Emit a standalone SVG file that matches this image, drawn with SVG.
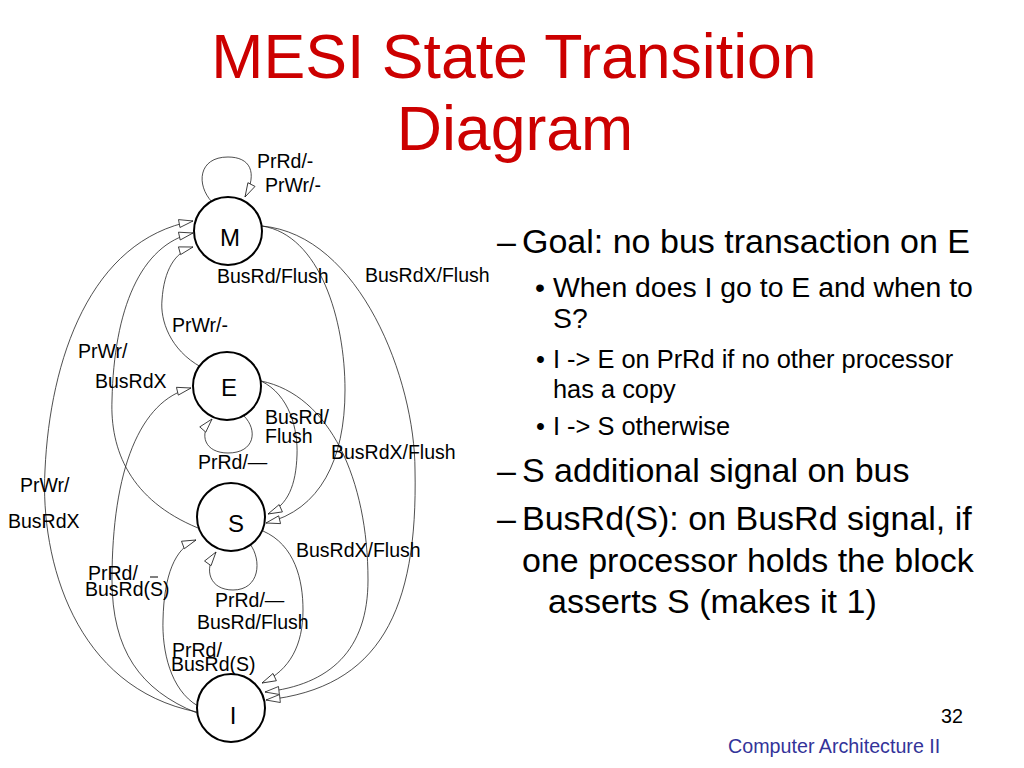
<svg xmlns="http://www.w3.org/2000/svg" width="1024" height="768" viewBox="0 0 1024 768">
<style>
.title{font-family:"Liberation Sans",Arial,sans-serif;font-size:62.6px;fill:#CC0000;text-anchor:middle}
.node{fill:#fff;stroke:#000;stroke-width:2}
.nl{font-family:"Liberation Sans",Arial,sans-serif;font-size:24px;fill:#000;text-anchor:middle}
.edge{fill:none;stroke:#222;stroke-width:0.8;marker-end:url(#arr)}
.lbl{font-family:"Liberation Sans",Arial,sans-serif;font-size:19.5px;fill:#000}
.b1{font-family:"Liberation Sans",Arial,sans-serif;font-size:34px;fill:#000}
.b2{font-family:"Liberation Sans",Arial,sans-serif;font-size:28.4px;fill:#000}
.b3{font-family:"Liberation Sans",Arial,sans-serif;font-size:25.4px;fill:#000}
.foot{font-family:"Liberation Sans",Arial,sans-serif;font-size:19.7px}
</style>
<defs>
<marker id="arr" markerUnits="userSpaceOnUse" markerWidth="16" markerHeight="11" refX="15" refY="5" orient="auto">
<path d="M1,1 L15,5 L1,9 z" fill="#fff" stroke="#222" stroke-width="0.8"/>
</marker>
</defs>
<rect width="1024" height="768" fill="#fff"/>
<g id="title">
<text class="title" x="514" y="78">MESI State Transition</text>
<text class="title" x="515" y="150">Diagram</text>
</g>
<g id="connectors">
<path id="e-MM" class="edge" d="M212,202 C196,185 198,157 228,157 C250,157 258,172 245,197"/>
<path id="e-IM" class="edge" d="M197,712 C75,688 40,560 45,470 C50,360 90,240 193,221"/>
<path id="e-SM" class="edge" d="M198,528 C130,500 110,450 112,400 C114,310 140,245 193,233"/>
<path id="e-EM" class="edge" d="M201,367 C170,350 160,320 162,300 C164,270 175,252 193,247"/>
<path id="e-IE" class="edge" d="M197,713 C140,690 112,650 112,580 C112,470 140,400 191,388"/>
<path id="e-IS" class="edge" d="M198,706 C170,690 162,650 163,620 C164,575 175,548 196,540"/>
<path id="e-MS" class="edge" d="M262,226 C320,235 345,320 345,390 C345,460 320,510 266,523"/>
<path id="e-MI" class="edge" d="M262,226 C360,235 415,380 415,470 C418,610 380,688 266,700"/>
<path id="e-ES" class="edge" d="M261,381 C290,395 298,430 297,455 C296,485 288,505 268,514"/>
<path id="e-EI" class="edge" d="M261,381 C330,395 368,480 368,580 C368,650 330,685 265,692"/>
<path id="e-SI" class="edge" d="M263,531 C295,545 303,580 303,610 C303,645 290,670 262,683"/>
<path id="e-EE" class="edge" d="M244,416 C258,430 255,453 228,453 C205,453 198,435 212,419"/>
<path id="e-SS" class="edge" d="M250,544 C262,560 260,590 233,590 C210,590 203,570 216,552"/>
</g>
<g id="edge-labels">
<text class="lbl" x="257" y="168">PrRd/-</text>
<text class="lbl" x="265" y="192">PrWr/-</text>
<text class="lbl" x="217" y="283">BusRd/Flush</text>
<text class="lbl" x="365" y="282">BusRdX/Flush</text>
<text class="lbl" x="172" y="332">PrWr/-</text>
<text class="lbl" x="78" y="358">PrWr/</text>
<text class="lbl" x="95" y="388">BusRdX</text>
<text class="lbl" x="265" y="424">BusRd/</text>
<text class="lbl" x="265" y="443">Flush</text>
<text class="lbl" x="198" y="469">PrRd/—</text>
<text class="lbl" x="331" y="459">BusRdX/Flush</text>
<text class="lbl" x="20" y="492">PrWr/</text>
<text class="lbl" x="8" y="528">BusRdX</text>
<text class="lbl" x="296" y="557">BusRdX/Flush</text>
<text class="lbl" x="88" y="580">PrRd/</text>
<line x1="150" y1="577" x2="158" y2="577" stroke="#000" stroke-width="1"/>
<text class="lbl" x="85" y="596">BusRd(S)</text>
<text class="lbl" x="215" y="607">PrRd/—</text>
<text class="lbl" x="197" y="629">BusRd/Flush</text>
<text class="lbl" x="172" y="657">PrRd/</text>
<text class="lbl" x="171" y="671">BusRd(S)</text>
</g>
<g id="node-M"><circle class="node" cx="228" cy="231" r="34"/><text class="nl" x="230" y="246">M</text></g>
<g id="node-E"><circle class="node" cx="227" cy="386" r="34"/><text class="nl" x="229" y="396">E</text></g>
<g id="node-S"><circle class="node" cx="231" cy="517" r="34"/><text class="nl" x="236" y="532">S</text></g>
<g id="node-I"><circle class="node" cx="231" cy="708" r="34"/><text class="nl" x="233" y="724">I</text></g>
<g id="bullets">
<text class="b1" x="497" y="253">–</text><text class="b1" x="522" y="253">Goal: no bus transaction on E</text>
<text class="b2" x="535" y="297">•</text><text class="b2" x="553" y="297">When does I go to E and when to</text>
<text class="b2" x="553" y="328">S?</text>
<text class="b3" x="536" y="368">•</text><text class="b3" x="553" y="368">I -&gt; E on PrRd if no other processor</text>
<text class="b3" x="553" y="398">has a copy</text>
<text class="b3" x="536" y="435">•</text><text class="b3" x="553" y="435">I -&gt; S otherwise</text>
<text class="b1" x="497" y="482">–</text><text class="b1" x="522" y="482">S additional signal on bus</text>
<text class="b1" x="497" y="530">–</text><text class="b1" x="522" y="530">BusRd(S): on BusRd signal, if</text>
<text class="b1" x="522" y="572">one processor holds the block</text>
<text class="b1" x="548" y="613">asserts S (makes it 1)</text>
</g>
<g id="footer">
<text class="foot" x="941" y="723" fill="#000">32</text>
<text class="foot" x="728" y="753" fill="#333399">Computer Architecture II</text>
</g>
</svg>
